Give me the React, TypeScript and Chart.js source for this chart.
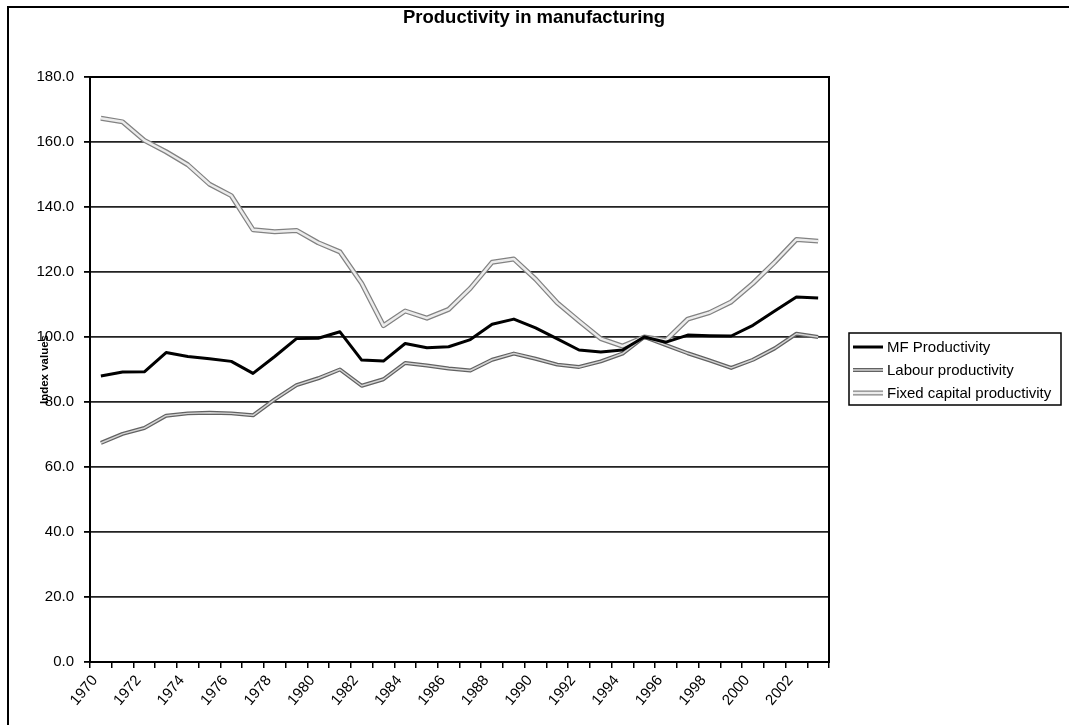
import React, { useEffect, useRef } from "react";
import { Chart, registerables } from "chart.js";

Chart.register(...registerables);

const years = [
  "1970", "1971", "1972", "1973", "1974", "1975", "1976", "1977", "1978", "1979",
  "1980", "1981", "1982", "1983", "1984", "1985", "1986", "1987", "1988", "1989",
  "1990", "1991", "1992", "1993", "1994", "1995", "1996", "1997", "1998", "1999",
  "2000", "2001", "2002", "2003",
];

const mfProductivity = [
  88.0, 89.2, 89.3, 95.2, 94.0, 93.3, 92.5, 88.8, 94.0, 99.5,
  99.6, 101.6, 92.9, 92.6, 98.0, 96.7, 97.0, 99.2, 103.9, 105.5,
  102.8, 99.4, 96.0, 95.4, 96.0, 100.0, 98.4, 100.6, 100.4, 100.3,
  103.6, 108.0, 112.3, 112.0,
];

const labourProductivity = [
  67.4, 70.2, 72.0, 75.8, 76.5, 76.7, 76.5, 75.9, 80.8, 85.2,
  87.3, 90.0, 85.0, 87.0, 92.0, 91.2, 90.3, 89.7, 93.0, 94.9,
  93.3, 91.5, 90.8, 92.5, 94.9, 100.0, 97.5, 95.0, 92.8, 90.5,
  93.0, 96.5, 101.0, 100.0,
];

const fixedCapitalProductivity = [
  167.3, 166.2, 160.5, 157.0, 153.0, 147.0, 143.5, 133.0, 132.4, 132.8,
  129.0, 126.2, 116.5, 103.5, 108.0, 105.8, 108.5, 115.0, 123.0, 124.0,
  117.8, 110.5, 104.9, 99.5, 97.2, 100.0, 99.0, 105.5, 107.5, 110.8,
  116.5, 123.0, 130.0, 129.5,
];

const chartTitle = "Productivity in manufacturing";
const seriesNames = ["MF Productivity", "Labour productivity", "Fixed capital productivity"];
const yTicks = [0, 20, 40, 60, 80, 100, 120, 140, 160, 180];

const FONT = '"Liberation Sans", Arial, sans-serif';

const labourOuter = "#626262";
const labourInner = "#d4d4d4";
const fixedOuter = "#828282";
const fixedInner = "#ececec";

const framePlugin = {
  id: "frame",
  afterDraw(chart: any) {
    const { ctx, chartArea } = chart;
    ctx.save();
    // plot area box
    ctx.strokeStyle = "#000";
    ctx.lineWidth = 2;
    ctx.strokeRect(chartArea.left, chartArea.top, chartArea.right - chartArea.left, chartArea.bottom - chartArea.top);
    // outer chart border (left & top visible)
    ctx.beginPath();
    ctx.moveTo(8, 725);
    ctx.lineTo(8, 7);
    ctx.lineTo(1069, 7);
    ctx.stroke();

    // title
    ctx.fillStyle = "#000";
    ctx.font = "bold 18.5px " + FONT;
    ctx.textAlign = "center";
    ctx.textBaseline = "middle";
    ctx.fillText(chartTitle, 534, 18);

    // legend
    const bx = 849, by = 333, bw = 212, bh = 72;
    ctx.lineWidth = 1.5;
    ctx.strokeStyle = "#000";
    ctx.fillStyle = "#fff";
    ctx.fillRect(bx, by, bw, bh);
    ctx.strokeRect(bx, by, bw, bh);
    const styles = [
      [{ c: "#000", w: 3 }],
      [{ c: labourOuter, w: 4 }, { c: labourInner, w: 1.5 }],
      [{ c: fixedOuter, w: 5 }, { c: fixedInner, w: 2.5 }],
    ];
    ctx.font = "15px " + FONT;
    ctx.textBaseline = "middle";
    ctx.textAlign = "left";
    seriesNames.forEach((name, i) => {
      const yy = by + 14 + i * 23;
      styles[i].forEach((s) => {
        ctx.strokeStyle = s.c;
        ctx.lineWidth = s.w;
        ctx.beginPath();
        ctx.moveTo(bx + 4, yy);
        ctx.lineTo(bx + 34, yy);
        ctx.stroke();
      });
      ctx.fillStyle = "#000";
      ctx.fillText(name, bx + 38, yy + 1);
    });
    ctx.restore();
  },
};

export default function App() {
  const canvasRef = useRef<HTMLCanvasElement | null>(null);

  useEffect(() => {
    if (!canvasRef.current) return;
    const lineBase = { pointRadius: 0, pointHoverRadius: 0, tension: 0, fill: false, borderJoinStyle: "round" as const };
    const chart = new Chart(canvasRef.current, {
      type: "line",
      data: {
        labels: years,
        datasets: [
          { ...lineBase, label: seriesNames[0], data: mfProductivity, borderColor: "#000", borderWidth: 3, order: 0 },
          { ...lineBase, label: "", data: labourProductivity, borderColor: labourInner, borderWidth: 1.5, order: 1 },
          { ...lineBase, label: seriesNames[1], data: labourProductivity, borderColor: labourOuter, borderWidth: 4, order: 2 },
          { ...lineBase, label: "", data: fixedCapitalProductivity, borderColor: fixedInner, borderWidth: 2.5, order: 3 },
          { ...lineBase, label: seriesNames[2], data: fixedCapitalProductivity, borderColor: fixedOuter, borderWidth: 5, order: 4 },
        ],
      },
      options: {
        animation: false,
        responsive: true,
        maintainAspectRatio: false,
        events: [],
        layout: { padding: { left: 30, right: 240, top: 77, bottom: 3 } },
        plugins: {
          legend: { display: false },
          tooltip: { enabled: false },
          title: { display: false },
        },
        scales: {
          x: {
            type: "category",
            offset: true,
            grid: { display: true, drawOnChartArea: false, drawTicks: true, tickLength: 6, tickColor: "#000", offset: true, lineWidth: 1.5 },
            border: { display: true, color: "#000", width: 2 },
            ticks: {
              autoSkip: false,
              minRotation: 50,
              maxRotation: 50,
              padding: 4,
              labelOffset: -6,
              color: "#000",
              font: { family: FONT, size: 15 },
              callback: (_v: any, idx: number) => (idx % 2 === 0 ? years[idx] : ""),
            },
            afterFit: (scale: any) => {
              scale.height = 60;
            },
          },
          y: {
            min: 0,
            max: 180,
            afterBuildTicks: (scale: any) => {
              scale.ticks = yTicks.map((v) => ({ value: v }));
            },
            grid: { color: "#222", lineWidth: 1.8, drawTicks: true, tickLength: 6, tickColor: "#000" },
            border: { display: true, color: "#000", width: 2 },
            ticks: {
              padding: 10,
              color: "#000",
              font: { family: FONT, size: 15 },
              callback: (v: any) => Number(v).toFixed(1),
            },
            title: {
              display: true,
              text: "Index values",
              color: "#000",
              font: { family: FONT, size: 11.5, weight: "bold" },
              padding: { top: 8, bottom: 0 },
            },
            afterFit: (scale: any) => {
              scale.width = 60;
            },
          },
        },
      },
      plugins: [framePlugin],
    });
    return () => chart.destroy();
  }, []);

  return (
    <div style={{ position: "fixed", left: 0, top: 0, width: 1069, height: 725, background: "#fff" }}>
      <canvas ref={canvasRef} />
    </div>
  );
}
